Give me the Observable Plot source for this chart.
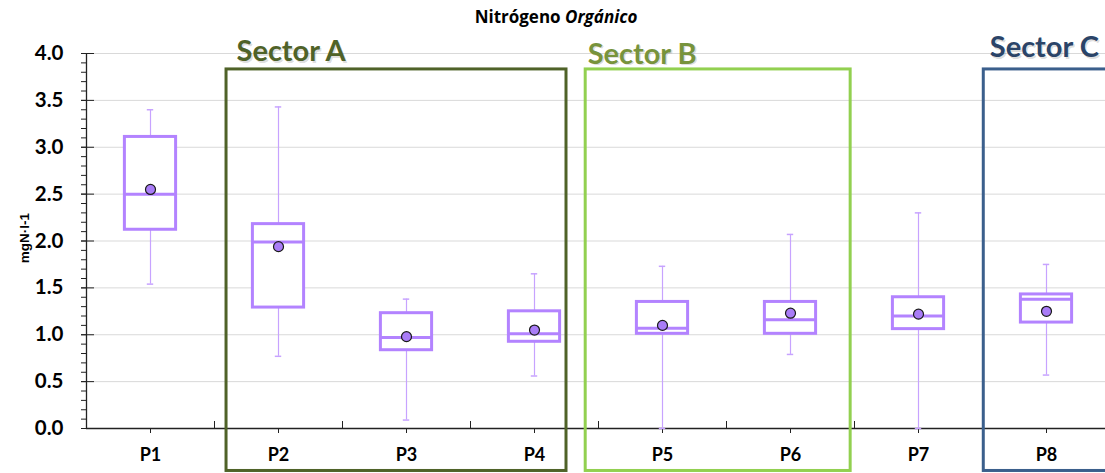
<!DOCTYPE html>
<html><head><meta charset="utf-8">
<script src="https://cdn.jsdelivr.net/npm/d3@7"></script>
<script src="https://cdn.jsdelivr.net/npm/@observablehq/plot@0.6"></script>
<style>
html,body{margin:0;padding:0;background:#fff;overflow:hidden;}
#wrap{position:relative;width:1105px;height:473px;overflow:hidden;}
#title{position:absolute;top:5px;left:0;width:1112px;text-align:center;font-family:"Open Sans",sans-serif;font-weight:bold;font-size:17px;color:#000;z-index:2;}
</style></head><body>
<div id="wrap"><div id="title">Nitrógeno <i>Orgánico</i></div></div>
<script>
// ---- data ----
const categories  = ["P1", "P2", "P3", "P4", "P5", "P6", "P7", "P8"];
const whiskerLow  = [1.54, 0.77, 0.09, 0.56, 0.00, 0.79, 0.00, 0.57];
const q1          = [2.12, 1.29, 0.835, 0.925, 1.01, 1.01, 1.06, 1.13];
const median      = [2.50, 1.99, 0.97, 1.01, 1.07, 1.16, 1.20, 1.38];
const q3          = [3.11, 2.18, 1.23, 1.25, 1.35, 1.35, 1.40, 1.43];
const whiskerHigh = [3.40, 3.43, 1.38, 1.65, 1.73, 2.07, 2.30, 1.75];
const mean        = [2.55, 1.94, 0.98, 1.05, 1.10, 1.23, 1.22, 1.25];
const yTicks      = [0, 0.5, 1.0, 1.5, 2.0, 2.5, 3.0, 3.5, 4.0];
const yLabel      = "mgN·l-1";
const sectorNames = ["Sector A", "Sector B", "Sector C"];
const sectorFrom  = ["P2", "P5", "P8"];
const sectorTo    = ["P4", "P6", "P8"];

// ---- styling (not data) ----
const sectorStyle = [
  {stroke: "#4f6228", text: "#4f6228", padL: 0.094, padR: -0.25, dx: 10, base: 3.915},
  {stroke: "#92d050", text: "#77933c", padL: -0.10,  padR: -0.03, dx: 2,  base: 3.893},
  {stroke: "#3b5f8c", text: "#2b4468", padL: 0.01,  padR: 0.3,   dx: 6,  base: 3.96}
];
const boxHalf = 0.2, capHalf = 0.025;
const sectorTop = 3.83, sectorBottom = -0.453;

const xOf = c => categories.indexOf(c) + 1;
const boxes = categories.map((c, i) => ({
  c, x: i + 1, lo: whiskerLow[i], q1: q1[i], med: median[i], q3: q3[i], hi: whiskerHigh[i], mean: mean[i]
}));
const sectors = sectorNames.map((n, i) => ({
  name: n,
  x1: xOf(sectorFrom[i]) - 0.5 + sectorStyle[i].padL,
  x2: xOf(sectorTo[i]) + 0.5 + sectorStyle[i].padR,
  ...sectorStyle[i]
}));
const minorTicks = d3.range(0, 40.5).map(v => v / 10);
const centers = categories.map((c, i) => i + 1);
const bounds = d3.range(0, categories.length + 1).map(i => i + 0.5);

const boxColor = "#b383ff", whiskerColor = "#c7a3ff";
const common = {
  width: 1105, height: 473, marginLeft: 86, marginRight: -5, marginTop: 53, marginBottom: 45,
  x: {type: "linear", domain: [0.5, 8.5], axis: null},
  y: {domain: [0, 4], axis: null}
};

const chart = Plot.plot({
  ...common,
  style: {fontFamily: "Lato, sans-serif", background: "white", color: "#000"},
  marks: [
    Plot.gridY({ticks: yTicks.filter(v => v > 0), stroke: "#d9d9d9", strokeOpacity: 1}),
    Plot.axisY({ticks: minorTicks, tickSize: 5, text: null, stroke: "#222", strokeOpacity: 1}),
    Plot.axisY({ticks: yTicks, tickSize: 13, dx: 8, text: null, stroke: "#222", strokeOpacity: 1}),
    Plot.axisY({ticks: yTicks, tickSize: 0, tickPadding: 23, tickFormat: d => d.toFixed(1),
      fontSize: 20.5, fontWeight: "bold", fill: "#000", label: null}),
    Plot.axisX({ticks: centers, tickSize: 5, tickPadding: 15, tickFormat: i => categories[i - 1],
      fontSize: 18, fontWeight: "bold", fill: "#000", stroke: "#222", strokeOpacity: 1, label: null}),
    Plot.axisX({ticks: bounds, tickSize: 7, dy: -7, text: null, stroke: "#222", strokeOpacity: 1, label: null}),
    Plot.ruleY([0], {stroke: "#222", strokeWidth: 1.3}),
    Plot.ruleX([0.5], {y1: 0, y2: 4, stroke: "#222", strokeWidth: 1.3}),
    Plot.text([yLabel], {frameAnchor: "left", y: 2.03, dx: -62, rotate: -90, text: d => d,
      textAnchor: "middle", lineAnchor: "middle",
      fontFamily: "Liberation Sans, Arial, sans-serif", fontWeight: "bold", fontSize: 13.5, fill: "#000"}),
    Plot.rect(sectors, {x1: "x1", x2: "x2", y1: sectorBottom, y2: sectorTop, fill: "none",
      stroke: d => d.stroke, strokeWidth: 3}),
    Plot.ruleX(boxes, {x: "x", y1: "lo", y2: "hi", stroke: whiskerColor, strokeWidth: 1.2}),
    Plot.ruleY(boxes, {x1: d => d.x - capHalf, x2: d => d.x + capHalf, y: "lo", stroke: whiskerColor, strokeWidth: 1.5}),
    Plot.ruleY(boxes, {x1: d => d.x - capHalf, x2: d => d.x + capHalf, y: "hi", stroke: whiskerColor, strokeWidth: 1.5}),
    Plot.rect(boxes, {x1: d => d.x - boxHalf, x2: d => d.x + boxHalf, y1: "q1", y2: "q3",
      fill: "white", stroke: boxColor, strokeWidth: 3}),
    Plot.ruleY(boxes, {x1: d => d.x - boxHalf, x2: d => d.x + boxHalf, y: "med", stroke: boxColor, strokeWidth: 3}),
    Plot.dot(boxes, {x: "x", y: "mean", r: 5, fill: "#a97cf7", stroke: "#1a1a1a", strokeWidth: 1.2})
  ]
});

// sector labels, each with its own offset, in a transparent overlay using the same scales
const labels = Plot.plot({
  ...common,
  style: {fontFamily: "Lato, sans-serif", background: "transparent"},
  marks: sectors.flatMap(s => [
    Plot.text([s], {x: "x1", y: "base", text: "name", dx: s.dx + 1.5, dy: 1.5, textAnchor: "start", lineAnchor: "bottom",
      fontSize: 29, fontWeight: "bold", fill: "#000", fillOpacity: 0.15}),
    Plot.text([s], {x: "x1", y: "base", text: "name", dx: s.dx, textAnchor: "start", lineAnchor: "bottom",
      fontSize: 29, fontWeight: "bold", fill: s.text})
  ])
});

const wrap = document.getElementById("wrap");
for (const svg of [chart, labels]) {
  svg.style.position = "absolute"; svg.style.left = "0px"; svg.style.top = "0px";
  wrap.appendChild(svg);
}
</script>
</body></html>
